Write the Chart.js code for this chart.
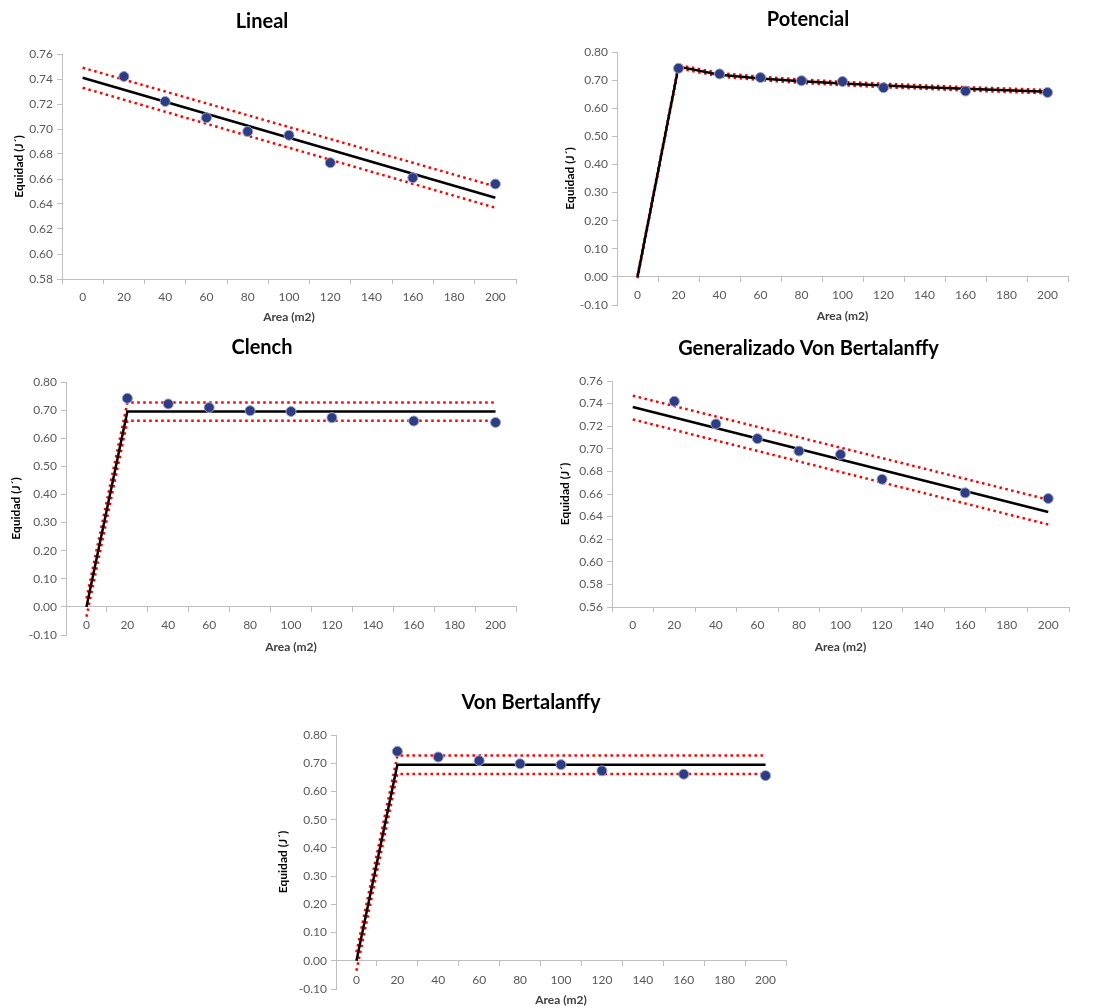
<!DOCTYPE html>
<html>
<head>
<meta charset="utf-8">
<script src="https://cdn.jsdelivr.net/npm/chart.js@4"></script>
<style>
  body { margin: 0; background: #fff; }
  .box { position: absolute; }
</style>
</head>
<body>
<div class="box" style="left:0;top:0;width:540px;height:330px"><canvas id="g-lineal"></canvas></div>
<div class="box" style="left:540px;top:0;width:556px;height:330px"><canvas id="g-potencial"></canvas></div>
<div class="box" style="left:0;top:330px;width:540px;height:330px"><canvas id="g-clench"></canvas></div>
<div class="box" style="left:540px;top:330px;width:556px;height:330px"><canvas id="g-gvb"></canvas></div>
<div class="box" style="left:270px;top:680px;width:560px;height:328px"><canvas id="g-vb"></canvas></div>
<script>
// categorias del eje x (area)
var areaTicks = ['0', '20', '40', '60', '80', '100', '120', '140', '160', '180', '200'];

// datos observados
var obsArea = ['20', '40', '60', '80', '100', '120', '160', '200'];
var obsEquidad = [0.742, 0.722, 0.709, 0.698, 0.695, 0.673, 0.661, 0.656];

// modelos ajustados (un valor por categoria, null = sin punto)
var linealFit   = [0.741, null, null, null, null, null, null, null, null, null, 0.645];
var linealSup   = [0.749, null, null, null, null, null, null, null, null, null, 0.654];
var linealInf   = [0.733, null, null, null, null, null, null, null, null, null, 0.637];

var potencialFit = [0.000, 0.748, 0.719, 0.706, 0.696, 0.688, 0.681, 0.675, 0.669, 0.664, 0.659];
var potencialSup = [0.005, 0.754, 0.725, 0.712, 0.702, 0.694, 0.687, 0.681, 0.675, 0.670, 0.665];
var potencialInf = [-0.005, 0.742, 0.713, 0.700, 0.690, 0.682, 0.675, 0.669, 0.663, 0.658, 0.653];

var clenchFit = [0.000, 0.695, null, null, null, null, null, null, null, null, 0.695];
var clenchSup = [0.030, 0.727, null, null, null, null, null, null, null, null, 0.727];
var clenchInf = [-0.035, 0.662, null, null, null, null, null, null, null, null, 0.662];

var gvbFit = [0.737, null, null, null, null, null, null, null, null, null, 0.644];
var gvbSup = [0.747, null, null, null, null, null, null, null, null, null, 0.655];
var gvbInf = [0.726, null, null, null, null, null, null, null, null, null, 0.633];

var vbFit = [0.000, 0.695, null, null, null, null, null, null, null, null, 0.695];
var vbSup = [0.030, 0.727, null, null, null, null, null, null, null, null, 0.727];
var vbInf = [-0.035, 0.662, null, null, null, null, null, null, null, null, 0.662];

var FONT = 'Lato, "Open Sans", sans-serif';
var GRIS = '#bfbfbf';

function lineaPunteada(data) {
	return {
		data: data, spanGaps: true, pointRadius: 0,
		borderColor: '#ff0000', borderWidth: 2.5, borderDash: [2.5, 3.5],
		fill: false, tension: 0
	};
}

function grafico(id, titulo, fit, sup, inf, yMin, yMax, yStep, lay) {
	var puntos = [];
	for (var i = 0; i < obsArea.length; i++) {
		puntos.push({ x: obsArea[i], y: obsEquidad[i] });
	}
	var xPos = lay.xCero ? { y: 0 } : 'bottom';

	new Chart(document.getElementById(id), {
		type: 'line',
		data: {
			labels: areaTicks,
			datasets: [
				{
					data: puntos, showLine: false,
					pointRadius: 5, pointBackgroundColor: '#2e3d82',
					pointBorderColor: '#9aa0cc', pointBorderWidth: 1
				},
				{
					data: fit, spanGaps: true, pointRadius: 0,
					borderColor: '#000', borderWidth: 2.5, fill: false, tension: 0
				},
				lineaPunteada(sup),
				lineaPunteada(inf)
			]
		},
		options: {
			responsive: true, maintainAspectRatio: false, animation: false,
			layout: { padding: { left: lay.pl, right: lay.pr, top: 0, bottom: lay.pb } },
			plugins: {
				legend: { display: false },
				tooltip: { enabled: false },
				title: {
					display: true, text: titulo, color: '#000',
					font: { family: FONT, size: 20, weight: 'bold', lineHeight: 1.2 },
					padding: { top: lay.tt, bottom: lay.tb }
				}
			},
			scales: {
				x: {
					type: 'category', position: xPos, offset: true,
					grid: { offset: true, drawOnChartArea: false, tickLength: 5, color: GRIS },
					border: { color: GRIS, width: 1 },
					ticks: { color: '#595959', padding: lay.xtp, font: { family: FONT, size: 12 }, maxRotation: 0, autoSkip: false },
					title: {
						display: true, text: 'Area (m2)', color: '#404040',
						font: { family: FONT, size: 12, weight: 'bold', lineHeight: 1.2 },
						padding: { top: 4, bottom: lay.xpb }
					},
					afterFit: function (s) { s.height = lay.xh; }
				},
				y: {
					min: yMin, max: yMax,
					grid: { drawOnChartArea: false, tickLength: 5, color: GRIS },
					border: { color: GRIS, width: 1 },
					ticks: {
						stepSize: yStep, color: '#595959', padding: 4, autoSkip: false,
						font: { family: FONT, size: 12 },
						callback: function (v) { return v.toFixed(2); }
					},
					title: {
						display: true, text: 'Equidad (J´)', color: '#000',
						font: { family: FONT, size: 12, weight: 'bold', lineHeight: 1.2 },
						padding: { top: lay.ytp, bottom: 0 }
					},
					afterFit: function (s) { s.width = lay.yw; }
				}
			}
		}
	});
}

grafico('g-lineal', 'Lineal', linealFit, linealSup, linealInf, 0.58, 0.76, 0.02,
	{ pl: 8, pr: 24, pb: 2, tt: 10, tb: 20, yw: 54, ytp: 4, xh: 49, xtp: 6, xpb: 4, xCero: false });

grafico('g-potencial', 'Potencial', potencialFit, potencialSup, potencialInf, -0.10, 0.80, 0.10,
	{ pl: 8, pr: 28, pb: 25, tt: 8, tb: 20, yw: 69, ytp: 15, xh: 20, xtp: 6, xpb: -26, xCero: true });

grafico('g-clench', 'Clench', clenchFit, clenchSup, clenchInf, -0.10, 0.80, 0.10,
	{ pl: 8, pr: 24, pb: 25, tt: 6, tb: 22, yw: 58, ytp: 1, xh: 20, xtp: 6, xpb: -27, xCero: true });

grafico('g-gvb', 'Generalizado Von Bertalanffy', gvbFit, gvbSup, gvbInf, 0.56, 0.76, 0.02,
	{ pl: 8, pr: 27, pb: 2, tt: 7, tb: 20, yw: 64, ytp: 10, xh: 51, xtp: 6, xpb: 4, xCero: false });

grafico('g-vb', 'Von Bertalanffy', vbFit, vbSup, vbInf, -0.10, 0.80, 0.10,
	{ pl: 6, pr: 44, pb: 19, tt: 11, tb: 20, yw: 60, ytp: 0, xh: 15, xtp: 7, xpb: -32, xCero: true });
</script>
</body>
</html>
